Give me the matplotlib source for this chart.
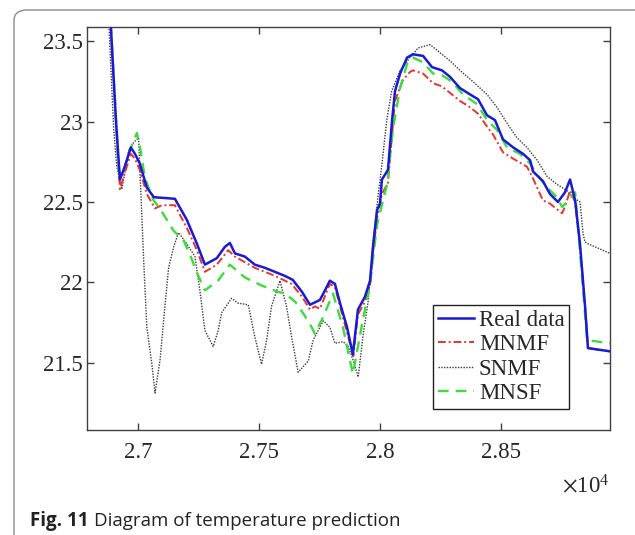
import matplotlib
matplotlib.use("Agg")
import matplotlib.pyplot as plt
from matplotlib.ticker import FixedLocator, FuncFormatter
from matplotlib.patches import FancyBboxPatch

# ---------------- data ----------------
real_x = [26884, 26909, 26926, 26946, 26971, 26988, 27008, 27037, 27066, 27153, 27202, 27244,
          27277, 27326, 27359, 27380, 27401, 27442, 27483, 27525, 27566, 27607, 27640, 27678,
          27711, 27752, 27773, 27793, 27814, 27835, 27864, 27888, 27909, 27938, 27959, 27971,
          27988, 28000, 28008, 28033, 28050, 28062, 28083, 28112, 28136, 28178, 28215, 28256,
          28289, 28330, 28372, 28405, 28442, 28475, 28508, 28550, 28591, 28620, 28632, 28673,
          28702, 28735, 28764, 28785, 28806, 28826, 28847, 28859, 28950]
real_y = [23.72, 23.02, 22.64, 22.72, 22.84, 22.80, 22.74, 22.59, 22.53, 22.52, 22.39, 22.24,
          22.11, 22.15, 22.22, 22.245, 22.18, 22.16, 22.11, 22.09, 22.065, 22.04, 22.015, 21.94,
          21.86, 21.89, 21.95, 22.01, 21.99, 21.87, 21.72, 21.55, 21.83, 21.91, 22.01, 22.22,
          22.45, 22.49, 22.64, 22.70, 23.01, 23.19, 23.30, 23.40, 23.42, 23.41, 23.34, 23.32,
          23.28, 23.21, 23.17, 23.14, 23.04, 23.01, 22.89, 22.84, 22.80, 22.76, 22.69, 22.63,
          22.55, 22.50, 22.56, 22.64, 22.51, 22.24, 21.85, 21.59, 21.57]

mnmf_x = [26884, 26909, 26926, 26946, 26971, 26988, 27008, 27037, 27071, 27099, 27153, 27202,
          27244, 27277, 27326, 27373, 27401, 27483, 27566, 27635, 27678, 27711, 27731, 27752,
          27793, 27814, 27835, 27890, 27909, 27938, 27959, 27971, 27988, 28008, 28033, 28062,
          28095, 28124, 28136, 28178, 28219, 28256, 28289, 28330, 28372, 28405, 28442, 28467,
          28508, 28550, 28607, 28628, 28673, 28702, 28752, 28764, 28785, 28806, 28826, 28847,
          28859, 28950]
mnmf_y = [23.72, 23.02, 22.58, 22.68, 22.80, 22.77, 22.70, 22.55, 22.46, 22.48, 22.48, 22.34,
          22.20, 22.065, 22.11, 22.20, 22.16, 22.09, 22.04, 21.99, 21.91, 21.83, 21.85, 21.835,
          21.99, 21.97, 21.85, 21.54, 21.80, 21.88, 21.98, 22.18, 22.40, 22.55, 22.62, 23.13,
          23.26, 23.31, 23.32, 23.30, 23.24, 23.22, 23.18, 23.13, 23.09, 23.05, 22.97, 22.92,
          22.81, 22.77, 22.72, 22.66, 22.51, 22.49, 22.43, 22.47, 22.57, 22.50, 22.22, 21.85,
          21.59, 21.57]

snmf_x = [26876, 26900, 26913, 26934, 26962, 26982, 27003, 27024, 27037, 27058, 27071, 27092,
          27113, 27127, 27148, 27168, 27202, 27236, 27256, 27277, 27311, 27332, 27346, 27387,
          27414, 27456, 27483, 27511, 27532, 27552, 27587, 27614, 27635, 27662, 27704, 27724,
          27766, 27793, 27814, 27848, 27869, 27890, 27910, 27931, 27952, 27972, 27993, 28007,
          28028, 28048, 28083, 28124, 28158, 28207, 28248, 28289, 28330, 28384, 28442, 28483,
          28525, 28566, 28607, 28649, 28690, 28731, 28773, 28797, 28826, 28839, 28847, 28859,
          28950]
snmf_y = [23.75, 22.96, 22.72, 22.58, 22.82, 22.87, 22.90, 22.14, 21.72, 21.49, 21.31, 21.52,
          21.87, 22.09, 22.22, 22.31, 22.24, 22.16, 21.95, 21.70, 21.60, 21.70, 21.81, 21.90,
          21.87, 21.86, 21.66, 21.49, 21.64, 21.85, 22.01, 21.85, 21.66, 21.44, 21.51, 21.64,
          21.76, 21.72, 21.62, 21.63, 21.60, 21.51, 21.41, 21.68, 21.89, 22.26, 22.55, 22.72,
          23.01, 23.19, 23.32, 23.40, 23.46, 23.48, 23.43, 23.38, 23.32, 23.25, 23.17, 23.09,
          22.99, 22.90, 22.84, 22.76, 22.66, 22.61, 22.57, 22.53, 22.50, 22.30, 22.25, 22.24,
          22.18]

mnsf_x = [26884, 26909, 26920, 26934, 26962, 26982, 26996, 27008, 27029, 27065, 27091, 27148,
          27189, 27216, 27244, 27277, 27331, 27380, 27442, 27511, 27580, 27607, 27649, 27690,
          27718, 27731, 27764, 27806, 27847, 27888, 27930, 27959, 27988, 28029, 28054, 28083,
          28112, 28136, 28178, 28219, 28256, 28297, 28343, 28401, 28442, 28483, 28525, 28578,
          28620, 28649, 28690, 28731, 28752, 28773, 28806, 28847, 28855, 28950]
mnsf_y = [23.72, 23.05, 22.70, 22.66, 22.80, 22.88, 22.93, 22.85, 22.65, 22.51, 22.46, 22.32,
          22.26, 22.17, 22.06, 21.95, 22.01, 22.11, 22.03, 21.98, 21.94, 21.93, 21.88, 21.79,
          21.72, 21.68, 21.78, 21.93, 21.72, 21.43, 21.77, 21.99, 22.36, 22.61, 22.96, 23.21,
          23.36, 23.40, 23.37, 23.30, 23.29, 23.25, 23.17, 23.11, 23.01, 22.95, 22.84, 22.80,
          22.74, 22.67, 22.59, 22.53, 22.47, 22.50, 22.56, 21.80, 21.64, 21.62]

labels = ["Real data", "MNMF", "SNMF", "MNSF"]
x_ticks = [27000, 27500, 28000, 28500]
x_tick_labels = ["2.7", "2.75", "2.8", "2.85"]
y_ticks = [21.5, 22.0, 22.5, 23.0, 23.5]
y_tick_labels = ["21.5", "22", "22.5", "23", "23.5"]

# ---------------- figure ----------------
plt.rcParams["mathtext.fontset"] = "stix"
serif = "Liberation Serif"
fs = 16.5

fig = plt.figure(figsize=(6.35, 5.35), dpi=100)
W, H = 635, 535

# rounded outer frame
frame = FancyBboxPatch((14 / W, -20 / H), (634 - 14) / W + 0.05, (H - 10 + 20) / H,
                       boxstyle="round,pad=0,rounding_size=0.02",
                       transform=fig.transFigure, fill=False, edgecolor="#8a8a8a",
                       linewidth=1.0, clip_on=False)
fig.patches.append(frame)

ax = fig.add_axes([87 / W, 1 - 430 / H, (610 - 87) / W, (430 - 27) / H])

ax.plot(real_x, real_y, color="#1a1ad6", lw=1.8, linestyle="-", label=labels[0], zorder=4)
ax.plot(mnmf_x, mnmf_y, color="#e8332e", lw=1.4, linestyle=(0, (4, 1.5, 1, 1.5)),
        label=labels[1], zorder=3)
ax.plot(snmf_x, snmf_y, color="#3a3a3a", lw=1.0, linestyle=(0, (1, 1)), label=labels[2],
        zorder=2)
ax.plot(mnsf_x, mnsf_y, color="#3ddc3d", lw=1.7, linestyle=(0, (4.5, 3)), label=labels[3],
        zorder=3)

ax.set_xlim(26790, 28950)
ax.set_ylim(21.08, 23.59)

ax.xaxis.set_major_locator(FixedLocator(x_ticks))
ax.xaxis.set_major_formatter(FuncFormatter(lambda v, p: x_tick_labels[x_ticks.index(int(round(v)))]
                                           if int(round(v)) in x_ticks else ""))
ax.yaxis.set_major_locator(FixedLocator(y_ticks))
ax.yaxis.set_major_formatter(FuncFormatter(lambda v, p: y_tick_labels[y_ticks.index(round(v, 1))]
                                           if round(v, 1) in y_ticks else ""))

for s in ax.spines.values():
    s.set_color("#404040")
    s.set_linewidth(1.0)
ax.tick_params(direction="in", length=5, width=1.0, color="#404040",
               top=True, right=True, labelsize=fs, labelcolor="#262626")
ax.tick_params(axis="x", pad=9)
ax.tick_params(axis="y", pad=3)
for lab in ax.get_xticklabels() + ax.get_yticklabels():
    lab.set_fontfamily(serif)

leg = ax.legend(loc="upper left", bbox_to_anchor=((433 - 87) / 523, (430 - 305) / 403),
                borderaxespad=0, prop={"family": serif, "size": fs},
                handlelength=1.6, handletextpad=0.2, labelspacing=0.15,
                borderpad=0.2, fancybox=False, framealpha=1, edgecolor="#202020")
leg.get_frame().set_linewidth(1.0)
for t in leg.get_texts():
    t.set_color("#262626")

fig.text(609 / W, 1 - 493 / H, r"$\times\mathregular{10^4}$", ha="right", va="baseline",
         fontsize=fs, family=serif, color="#262626")

cap_y = 1 - 526 / H
t1 = fig.text(30 / W, cap_y, "Fig. 11", fontsize=13.5, family="Open Sans", weight="bold",
              ha="left", va="baseline", color="#222222")
fig.canvas.draw()
bb = t1.get_window_extent()
fig.text((bb.x1 + 5) / W, cap_y, "Diagram of temperature prediction", fontsize=13.5,
         family="Open Sans", ha="left", va="baseline", color="#222222")

fig.savefig("out.png", dpi=100)
